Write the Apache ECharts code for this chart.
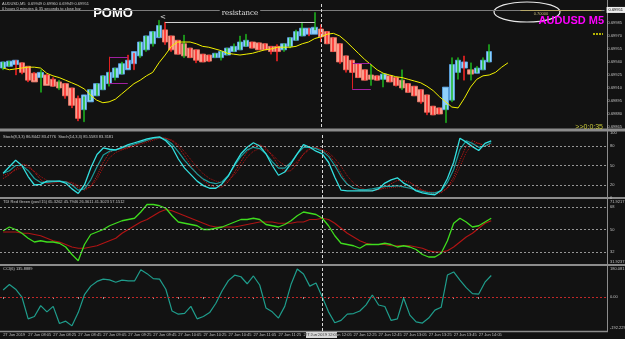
<!DOCTYPE html>
<html>
<head>
<meta charset="utf-8">
<script src="https://cdn.jsdelivr.net/npm/echarts/dist/echarts.min.js"></script>
<style>
html,body{margin:0;padding:0;background:#121212;}
#chart{width:625px;height:339px;}
</style>
</head>
<body>
<div id="chart"></div>
<script>
// M5 bars, 27 Jun 2019 from 07:45
var times = [];
for (var t = 0; t < 97; t++) {
  var m = 7 * 60 + 45 + t * 5;
  times.push(('0' + Math.floor(m / 60)).slice(-2) + ':' + ('0' + m % 60).slice(-2));
}
var tickLabels = ['27 Jun 2019','27 Jun 08:05','27 Jun 08:25','27 Jun 08:45','27 Jun 09:05','27 Jun 09:25',
  '27 Jun 09:45','27 Jun 10:05','27 Jun 10:25','27 Jun 10:45','27 Jun 11:05','27 Jun 11:25','27 Jun 11:45',
  '27 Jun 12:05','27 Jun 12:25','27 Jun 12:45','27 Jun 13:05','27 Jun 13:25','27 Jun 13:45','27 Jun 14:05'];

// heiken ashi bodies
var haOpen = [0.69933,0.69935,0.69937,0.69939,0.69935,0.69927,0.69922,0.69925,0.69920,0.69917,
  0.69915,0.69910,0.69898,0.69885,0.69894,0.69901,0.69908,0.69915,0.69922,0.69926,
  0.69931,0.69938,0.69947,0.69954,0.69961,0.69968,0.69977,0.69970,0.69965,0.69961,
  0.69956,0.69954,0.69949,0.69948,0.69945,0.69945,0.69948,0.69952,0.69954,0.69958,
  0.69963,0.69962,0.69961,0.69958,0.69958,0.69954,0.69958,0.69965,0.69970,0.69972,
  0.69972,0.69978,0.69975,0.69968,0.69961,0.69947,0.69942,0.69938,0.69931,0.69925,
  0.69924,0.69920,0.69924,0.69922,0.69919,0.69915,0.69912,0.69908,0.69902,0.69889,
  0.69887,0.69885,0.69896,0.69928,0.69933,0.69931,0.69927,0.69931,0.69940];
var haClose = [0.69940,0.69941,0.69942,0.69928,0.69919,0.69917,0.69928,0.69913,0.69912,0.69910,
  0.69901,0.69890,0.69875,0.69902,0.69908,0.69915,0.69924,0.69928,0.69933,0.69938,
  0.69942,0.69952,0.69963,0.69970,0.69975,0.69982,0.69963,0.69954,0.69949,0.69947,
  0.69945,0.69942,0.69940,0.69941,0.69950,0.69952,0.69956,0.69958,0.69963,0.69965,
  0.69956,0.69954,0.69954,0.69952,0.69952,0.69961,0.69968,0.69975,0.69979,0.69979,
  0.69980,0.69969,0.69961,0.69952,0.69940,0.69931,0.69928,0.69922,0.69919,0.69920,
  0.69919,0.69926,0.69917,0.69913,0.69910,0.69905,0.69901,0.69894,0.69882,0.69879,
  0.69880,0.69911,0.69937,0.69942,0.69940,0.69926,0.69933,0.69942,0.69952];
// plain bars (thin green / red)
var barOpen = [0.69931,0.69935,0.69942,0.69939,0.69935,0.69928,0.69905,0.69926,0.69922,0.69908,
  0.69915,0.69910,0.69901,0.69871,0.69896,0.69901,0.69908,0.69912,0.69919,0.69926,
  0.69948,0.69950,0.69945,0.69952,0.69958,0.69969,0.69986,0.69970,0.69965,0.69945,
  0.69956,0.69954,0.69949,0.69948,0.69945,0.69942,0.69948,0.69952,0.69954,0.69958,
  0.69963,0.69962,0.69961,0.69958,0.69960,0.69952,0.69956,0.69965,0.69970,0.69979,
  0.69977,0.69983,0.69975,0.69968,0.69961,0.69947,0.69942,0.69938,0.69931,0.69913,
  0.69924,0.69911,0.69924,0.69922,0.69908,0.69915,0.69912,0.69908,0.69902,0.69889,
  0.69887,0.69870,0.69894,0.69920,0.69947,0.69919,0.69928,0.69931,0.69940];
var barClose = [0.69940,0.69941,0.69925,0.69926,0.69917,0.69919,0.69931,0.69915,0.69912,0.69919,
  0.69898,0.69887,0.69872,0.69900,0.69908,0.69915,0.69924,0.69928,0.69933,0.69940,
  0.69933,0.69931,0.69963,0.69970,0.69975,0.69988,0.69960,0.69952,0.69949,0.69971,
  0.69945,0.69939,0.69940,0.69940,0.69950,0.69952,0.69956,0.69961,0.69970,0.69972,
  0.69956,0.69954,0.69954,0.69949,0.69941,0.69961,0.69968,0.69977,0.69986,0.69970,
  0.69997,0.69963,0.69961,0.69952,0.69938,0.69928,0.69928,0.69922,0.69919,0.69937,
  0.69919,0.69927,0.69917,0.69912,0.69931,0.69905,0.69901,0.69892,0.69879,0.69879,
  0.69880,0.69890,0.69945,0.69945,0.69919,0.69939,0.69935,0.69945,0.69960];
// yellow moving average (shifted forward)
var maLine = [0.69933,0.69931,0.69932,0.69933,0.69934,0.69934,0.69933,0.69927,0.69924,0.69922,
  0.69919,0.69916,0.69913,0.69909,0.69902,0.69896,0.69893,0.69894,0.69897,0.69903,
  0.69909,0.69915,0.69919,0.69924,0.69928,0.69939,0.69948,0.69958,0.69963,0.69963,
  0.69963,0.69961,0.69958,0.69957,0.69955,0.69953,0.69950,0.69949,0.69948,0.69949,
  0.69950,0.69952,0.69954,0.69955,0.69957,0.69957,0.69957,0.69958,0.69961,0.69963,
  0.69967,0.69969,0.69972,0.69973,0.69970,0.69964,0.69957,0.69950,0.69943,0.69937,
  0.69931,0.69927,0.69925,0.69923,0.69922,0.69920,0.69918,0.69916,0.69912,0.69907,
  0.69900,0.69894,0.69888,0.69887,0.69898,0.69911,0.69920,0.69924,0.69925,0.69928,
  0.69934,0.69939];

// Stoch(8,3,3) / Stoch(14,3,3)
var stochFast = [38,48,58,50,33,20,21,26,26,26, 23,14,7,20,46,67,77,75,74,78,
  82,85,88,91,93,94,88,78,60,46, 36,26,19,15,15,22,34,52,68,78,
  85,80,68,50,35,40,53,68,82,78, 72,68,55,32,12,11,11,11,11,11,
  14,23,28,31,23,18,11,8,6,5, 12,30,55,92,86,79,73,84,88];
var stochSlow = [38,42,50,50,42,30,24,24,25,26, 25,20,12,14,28,48,66,72,74,77,
  80,83,86,89,92,93,90,83,71,58, 47,37,29,24,22,25,35,50,64,74,
  78,76,68,56,46,46,55,68,78,78, 76,72,64,50,33,21,15,13,13,14,
  16,18,18,19,17,15,12,10,8,8, 11,24,44,75,88,84,78,80,85];
var sigFast = [30,36,45,52,50,40,28,22,23,25, 25,22,16,12,18,34,55,70,75,75,
  78,81,85,88,91,93,92,88,79,65, 50,37,27,20,16,17,25,40,56,71,
  80,82,77,65,50,41,42,53,68,77, 78,74,67,55,38,22,14,11,11,11,
  13,17,22,27,27,24,18,12,8,6, 8,16,32,58,80,88,84,80,82];
var sigSlow = [35,38,43,47,47,41,33,27,25,25, 25,24,19,15,17,29,47,62,70,74,
  77,80,83,86,89,92,92,89,82,71, 59,47,37,30,26,23,27,36,49,63,
  72,76,74,67,57,50,49,56,67,75, 77,75,70,61,49,34,23,16,13,12,
  13,15,16,17,17,16,14,12,10,9, 9,15,27,48,70,83,84,81,82];

// TDI Red Green
var tdiGreen = [49,52,50,47,43,40,41,40,40,39, 36,30,25,38,46,48,50,53,55,57,
  58,59,64,70,70,69,67,61,56,55, 54,53,50,50,51,52,54,56,58,58,
  59,58,54,53,52,54,57,61,64,63, 62,59,53,45,39,38,37,35,38,38,
  38,39,38,36,37,36,34,30,28,28, 31,41,55,59,56,52,53,56,59];
var tdiRed = [48,48,48,47,47,46,45,43,41,40, 38,36,35,35,36,37,39,41,43,47,
  50,53,56,58,61,64,66,65,63,61, 59,57,55,53,52,52,52,52,53,54,
  55,56,56,56,55,55,55,56,56,58, 58,59,58,55,51,47,44,41,39,38,
  38,38,37,37,37,37,36,35,33,32, 32,33,36,40,44,47,51,55,57];

// CCI(6)
var cci = [45,80,50,0,-140,-125,-55,-95,-60,-170, -155,-185,-100,15,70,100,115,110,95,108,
  103,103,175,150,118,115,50,-90,-110,-105, -60,-140,-125,-100,-40,40,105,140,130,85,
  135,77,-70,-95,-135,-60,80,180,148,70, 90,0,-95,-165,-150,-110,-106,-90,-50,13,
  -51,-61,-150,-140,-6,-116,-160,-167,-135,-84, -66,141,161,109,60,22,19,95,138];

var chart = echarts.init(document.getElementById('chart'));

function candles(o, c) {
  return o.map(function(v, i) { return [v, c[i], Math.min(v, c[i]), Math.max(v, c[i])]; });
}
function tickShown(idx) { return idx % 4 === 0 && idx <= 78; }

var tiny = 'Liberation Sans';
var crossLine = {xAxis: times[51], lineStyle: {color: '#d8d8d8', type: [3, 2], width: 1}, label: {show: false}};

var option = {
  backgroundColor: '#121212',
  animation: false,
  grid: [
    {left: 0, right: 18, top: 3, height: 124},
    {left: 0, right: 18, top: 133, height: 65},
    {left: 0, right: 18, top: 199, height: 64},
    {left: 0, right: 18, top: 266, height: 65}
  ],
  xAxis: [0, 1, 2, 3].map(function(g) {
    return {
      type: 'category', gridIndex: g, data: times,
      axisLine: {show: false}, splitLine: {show: false},
      axisTick: {show: g === 3, alignWithLabel: true, interval: tickShown, length: 2, lineStyle: {color: '#999'}},
      axisLabel: {show: g === 3, interval: tickShown, align: 'left', fontSize: 4, fontFamily: tiny,
        color: '#c0c0c0', margin: 2, formatter: function(v, idx) { return tickLabels[idx / 4]; }}
    };
  }),
  yAxis: [
    {type: 'value', gridIndex: 0, position: 'right', min: 0.69865, max: 0.70008, interval: 0.00005,
      splitLine: {show: false}, axisLine: {show: false}, axisTick: {show: false},
      axisLabel: {fontSize: 4, fontFamily: tiny, color: '#c0c0c0', margin: 3, showMaxLabel: false,
        formatter: function(v) { return Math.round((v - 0.69865) / 0.00005) % 3 === 0 ? v.toFixed(5) : ''; }}},
    {type: 'value', gridIndex: 1, position: 'right', min: 0, max: 100, interval: 10,
      splitLine: {show: false}, axisLine: {show: false}, axisTick: {show: false},
      axisLabel: {fontSize: 4, fontFamily: tiny, color: '#c0c0c0', margin: 3,
        formatter: function(v) { return [0, 20, 50, 80, 100].indexOf(v) >= 0 ? v : ''; }}},
    {type: 'value', gridIndex: 2, position: 'right', min: 23.2, max: 74.4,
      splitLine: {show: false}, axisLine: {show: false}, axisTick: {show: false}, axisLabel: {show: false}},
    {type: 'value', gridIndex: 3, position: 'right', min: -218, max: 199,
      splitLine: {show: false}, axisLine: {show: false}, axisTick: {show: false}, axisLabel: {show: false}}
  ],
  series: [
    {
      name: 'HA', type: 'candlestick', xAxisIndex: 0, yAxisIndex: 0, barWidth: 6,
      data: candles(haOpen, haClose),
      itemStyle: {color: '#8fd0fa', color0: '#f8a090', borderColor: '#5aa8ee', borderColor0: '#f07868', borderWidth: 0.8},
      markLine: {
        symbol: ['none', 'none'], silent: true, label: {show: false},
        data: [
          {yAxis: 0.69951, lineStyle: {color: '#7c7c7c', type: 'solid', width: 1},
            label: {show: true, position: 'end', distance: 2, formatter: '0.69951', color: '#000',
              backgroundColor: '#eeeeee', fontSize: 4, fontFamily: tiny, padding: [1, 2]}},
          crossLine,
          [{coord: [times[26], 0.69986], lineStyle: {color: '#cfcfcf', type: 'solid', width: 1},
            label: {show: true, position: 'middle', formatter: 'resistance', color: '#e0e0e0', fontSize: 7,
              fontFamily: 'DejaVu Serif', backgroundColor: '#121212', padding: [0, 2]}},
           {coord: [times[50], 0.69986]}],
          [{coord: [times[17], 0.69946], lineStyle: {color: '#a020a0', type: 'solid', width: 1}}, {coord: [times[20], 0.69946]}],
          [{coord: [times[17], 0.69915], lineStyle: {color: '#a020a0', type: 'solid', width: 1}}, {coord: [times[20], 0.69915]}],
          [{coord: [times[17], 0.69946], lineStyle: {color: '#e02020', type: 'solid', width: 1}}, {coord: [times[17], 0.69915]}],
          [{coord: [times[56], 0.69939], lineStyle: {color: '#a020a0', type: 'solid', width: 1}}, {coord: [times[59], 0.69939]}],
          [{coord: [times[56], 0.69909], lineStyle: {color: '#a020a0', type: 'solid', width: 1}}, {coord: [times[59], 0.69909]}],
          [{coord: [times[56], 0.69939], lineStyle: {color: '#e02020', type: 'solid', width: 1}}, {coord: [times[56], 0.69909]}],
          [{coord: [times[83], 0.70000], lineStyle: {color: '#b5a86a', type: 'solid', width: 1}}, {coord: [times[96], 0.70000]}]
        ]
      }
    },
    {
      name: 'Bars', type: 'candlestick', xAxisIndex: 0, yAxisIndex: 0, barWidth: 1.5,
      data: candles(barOpen, barClose),
      itemStyle: {color: '#1fb81f', color0: '#ff2424', borderColor: '#1fb81f', borderColor0: '#ff2424', borderWidth: 0.5}
    },
    {name: 'MA', type: 'line', xAxisIndex: 0, yAxisIndex: 0, data: maLine, symbol: 'none',
      lineStyle: {color: '#f2f200', width: 1}},
    // stochastics
    {name: 'sigSlow', type: 'line', xAxisIndex: 1, yAxisIndex: 1, data: sigSlow, symbol: 'none',
      lineStyle: {color: '#b01010', width: 1, type: [1, 1]}},
    {name: 'sigFast', type: 'line', xAxisIndex: 1, yAxisIndex: 1, data: sigFast, symbol: 'none',
      lineStyle: {color: '#d01818', width: 1, type: [1, 1]}},
    {name: 'stochSlow', type: 'line', xAxisIndex: 1, yAxisIndex: 1, data: stochSlow, symbol: 'none',
      lineStyle: {color: '#1c9a9a', width: 1.2}},
    {name: 'stochFast', type: 'line', xAxisIndex: 1, yAxisIndex: 1, data: stochFast, symbol: 'none',
      lineStyle: {color: '#33e0e0', width: 1.3},
      markLine: {symbol: ['none', 'none'], silent: true, label: {show: false},
        lineStyle: {color: '#b8b8b8', type: [2, 2], width: 0.8},
        data: [{yAxis: 80}, {yAxis: 50}, {yAxis: 20}, crossLine]}},
    // TDI
    {name: 'tdiRed', type: 'line', xAxisIndex: 2, yAxisIndex: 2, data: tdiRed, symbol: 'none',
      lineStyle: {color: '#b01414', width: 1.2}},
    {name: 'tdiGreen', type: 'line', xAxisIndex: 2, yAxisIndex: 2, data: tdiGreen, symbol: 'none',
      lineStyle: {color: '#3fdc1e', width: 1.3},
      markLine: {symbol: ['none', 'none'], silent: true,
        lineStyle: {color: '#b8b8b8', type: [2, 2], width: 0.8},
        label: {show: true, position: 'end', distance: 3, fontSize: 4, fontFamily: tiny, color: '#c0c0c0',
          formatter: function(p) { return p.value; }},
        data: [{yAxis: 68}, {yAxis: 50}, {yAxis: 32}, crossLine]}},
    // CCI
    {name: 'CCI', type: 'line', xAxisIndex: 3, yAxisIndex: 3, data: cci, symbol: 'none',
      lineStyle: {color: '#1f9d8c', width: 1.2},
      markLine: {symbol: ['none', 'none'], silent: true, label: {show: false},
        data: [
          {yAxis: 0, lineStyle: {color: '#c02828', type: [2, 2], width: 1},
            label: {show: true, position: 'end', distance: 3, fontSize: 4, fontFamily: tiny, color: '#c0c0c0', formatter: '0.00'}},
          crossLine
        ]}}
  ],
  graphic: [
    // panel frames
    {type: 'line', shape: {x1: 0, y1: 130, x2: 625, y2: 130}, style: {stroke: '#8c8c8c', lineWidth: 3}},
    {type: 'line', shape: {x1: 0, y1: 198, x2: 625, y2: 198}, style: {stroke: '#8c8c8c', lineWidth: 2}},
    {type: 'line', shape: {x1: 0, y1: 265, x2: 625, y2: 265}, style: {stroke: '#8c8c8c', lineWidth: 2}},
    {type: 'line', shape: {x1: 0, y1: 331.5, x2: 608, y2: 331.5}, style: {stroke: '#8c8c8c', lineWidth: 1.5}},
    {type: 'line', shape: {x1: 607.5, y1: 0, x2: 607.5, y2: 332}, style: {stroke: '#8c8c8c', lineWidth: 1}},
    // headers
    {type: 'text', x: 2, y: 4, style: {text: 'AUDUSD,M5  0.69949 0.69960 0.69949 0.69951', fill: '#c8c8c8', font: '4px Liberation Sans', verticalAlign: 'middle'}},
    {type: 'text', x: 2, y: 9, style: {text: '0 hours 0 minutes & 35 seconds to close bar', fill: '#c8c8c8', font: '4px Liberation Sans', verticalAlign: 'middle'}},
    {type: 'text', x: 113, y: 13, style: {text: 'POMO', fill: '#ffffff', font: 'bold 13px Liberation Sans', align: 'center', verticalAlign: 'middle'}},
    {type: 'text', x: 163, y: 17, style: {text: '<', fill: '#e0e0e0', font: '7px DejaVu Sans', align: 'center', verticalAlign: 'middle'}},
    {type: 'ellipse', shape: {cx: 527, cy: 12, rx: 33, ry: 10}, style: {fill: 'none', stroke: '#e8e8e8', lineWidth: 1.2}},
    {type: 'text', x: 541, y: 13.5, style: {text: '0.70000', fill: '#c9bc7c', font: '4px Liberation Sans', align: 'center', verticalAlign: 'middle'}},
    {type: 'text', x: 604, y: 21, style: {text: 'AUDUSD M5', fill: '#ff00ff', font: 'bold 11px Liberation Sans', align: 'right', verticalAlign: 'middle'}},
    {type: 'line', shape: {x1: 593, y1: 34, x2: 603, y2: 34}, style: {stroke: '#eaea00', lineWidth: 1.5, lineDash: [2, 1]}},
    {type: 'text', x: 603, y: 127, style: {text: '>>0:0:35', fill: '#c8c83a', font: '7px Liberation Sans', align: 'right', verticalAlign: 'middle'}},
    {type: 'text', x: 3, y: 137, style: {text: 'Stoch(8,3,3) 86.8442 83.4776  Stoch(14,3,3) 85.5583 83.3181', fill: '#c8c8c8', font: '4px Liberation Sans', verticalAlign: 'middle'}},
    {type: 'text', x: 3, y: 202, style: {text: 'TDI Red Green (pos#15) 65.3262 45.7946 26.3611 41.3023 57.1512', fill: '#c8c8c8', font: '4px Liberation Sans', verticalAlign: 'middle'}},
    {type: 'text', x: 3, y: 269, style: {text: 'CCI(6) 135.8889', fill: '#c8c8c8', font: '4px Liberation Sans', verticalAlign: 'middle'}},
    // right scale texts of the sub windows
    {type: 'text', x: 610, y: 202, style: {text: '71.9217', fill: '#c0c0c0', font: '4px Liberation Sans', verticalAlign: 'middle'}},
    {type: 'text', x: 610, y: 262, style: {text: '31.9237', fill: '#c0c0c0', font: '4px Liberation Sans', verticalAlign: 'middle'}},
    {type: 'text', x: 610, y: 269, style: {text: '180.081', fill: '#c0c0c0', font: '4px Liberation Sans', verticalAlign: 'middle'}},
    {type: 'text', x: 610, y: 328, style: {text: '-192.2297', fill: '#c0c0c0', font: '4px Liberation Sans', verticalAlign: 'middle'}},
    // crosshair time box
    {type: 'rect', shape: {x: 306, y: 332, width: 31, height: 6}, style: {fill: '#d6d6d6'}},
    {type: 'text', x: 321.5, y: 335, style: {text: '27 Jun 2019 12:00', fill: '#111', font: '4px Liberation Sans', align: 'center', verticalAlign: 'middle'}}
  ]
};
chart.setOption(option);
</script>
</body>
</html>
